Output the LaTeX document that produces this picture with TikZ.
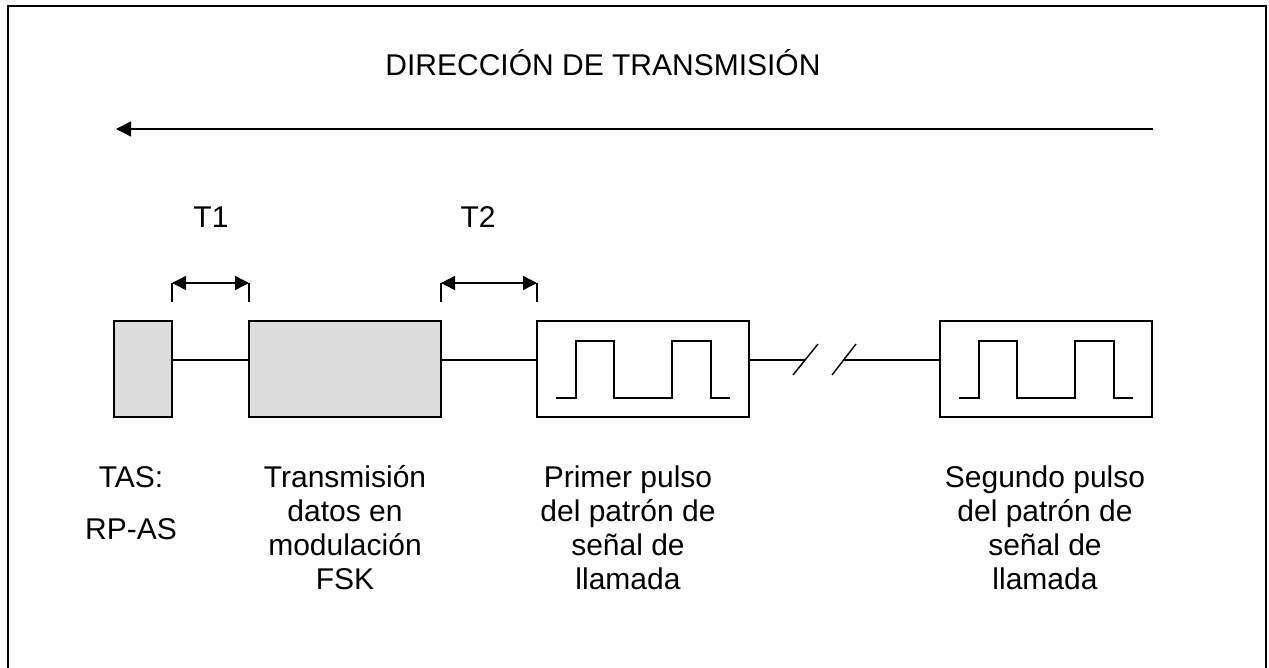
\documentclass[tikz,border=0pt]{standalone}
\usepackage{fontspec}
\setmainfont{Liberation Sans}
\usetikzlibrary{positioning}
\usetikzlibrary{calc}
\usetikzlibrary{arrows.meta}
\definecolor{gris}{RGB}{220,220,220}
\tikzset{
  caja/.style={draw, line width=0.7pt, minimum height=48pt, inner sep=0pt, outer sep=0pt},
  flecha/.style={line width=0.7pt, -{Triangle[length=7.5pt,width=7.5pt]}},
  cota/.style={line width=0.7pt, {Triangle[length=7pt,width=7pt]}-{Triangle[length=7pt,width=7pt]}},
  etiqueta/.style={align=center, inner sep=0pt, font=\fontsize{15}{17}\selectfont}
}
\newcommand{\pulsos}[1]{
  \draw [line width=0.7pt, shift={(#1.west)}] (19,29) -- (39,29) -- (39,-28) -- (77,-28) -- (77,29)
    -- (135,29) -- (135,-28) -- (174,-28) -- (174,29) -- (193,29);
}

\begin{document}
\begin{tikzpicture}[x=0.5pt,y=-0.5pt]
  \useasboundingbox (0,0) rectangle (1269,668);
  \draw [line width=1pt] (8,700) -- (8,6) -- (1266,6) -- (1266,700);

  \node [etiqueta, anchor=base] (titulo) at (603,76) {DIRECCIÓN DE TRANSMISIÓN};
  \coordinate (ini) at (1153,129);
  \coordinate (fin) at (116,129);
  \draw [flecha] (ini) -- (fin);

  \node [caja, fill=gris, minimum width=29pt] (tas) at (143,369) {};
  \node [caja, fill=gris, minimum width=96pt, right=38.5pt of tas] (fsk) {};
  \node [caja, minimum width=106pt, right=48pt of fsk] (pulsoA) {};
  \node [caja, minimum width=106pt, right=95.5pt of pulsoA] (pulsoB) {};
  \pulsos{pulsoA}
  \pulsos{pulsoB}

  \coordinate (nivel) at (0,360);
  \coordinate (corteA) at (805,360);
  \coordinate (corteB) at (844,360);
  \draw [line width=0.7pt] (tas.east |- nivel) -- (fsk.west |- nivel);
  \draw [line width=0.7pt] (fsk.east |- nivel) -- (pulsoA.west |- nivel);
  \draw [line width=0.7pt] (pulsoA.east |- nivel) -- (corteA);
  \draw [line width=0.7pt] (corteB) -- (pulsoB.west |- nivel);
  \draw [line width=0.7pt] ($(corteA)+(-12,15)$) -- ($(corteA)+(13,-16)$);
  \draw [line width=0.7pt] ($(corteB)+(-12,15)$) -- ($(corteB)+(12,-16)$);

  \coordinate (cota) at (0,283);
  \coordinate (pie) at (0,302);
  \draw [line width=0.7pt] (tas.east |- pie) -- (tas.east |- cota);
  \draw [line width=0.7pt] (fsk.west |- pie) -- (fsk.west |- cota);
  \draw [line width=0.7pt] (fsk.east |- pie) -- (fsk.east |- cota);
  \draw [line width=0.7pt] (pulsoA.west |- pie) -- (pulsoA.west |- cota);
  \draw [cota] (tas.east |- cota) -- (fsk.west |- cota);
  \draw [cota] (fsk.east |- cota) -- (pulsoA.west |- cota);
  \node [etiqueta, anchor=base] (tA) at (211,228) {T1};
  \node [etiqueta, anchor=base] (tB) at (478,228) {T2};

  \node [etiqueta, anchor=base] (txtTAS) at (131,539) {TAS:\\[9pt]RP-AS};
  \node [etiqueta, anchor=base] (txtFSK) at (345,589) {Transmisión\\datos en\\modulación\\FSK};
  \node [etiqueta, anchor=base] (txtA) at (628,589) {Primer pulso\\del patrón de\\señal de\\llamada};
  \node [etiqueta, anchor=base] (txtB) at (1045,589) {Segundo pulso\\del patrón de\\señal de\\llamada};
\end{tikzpicture}
\end{document}
